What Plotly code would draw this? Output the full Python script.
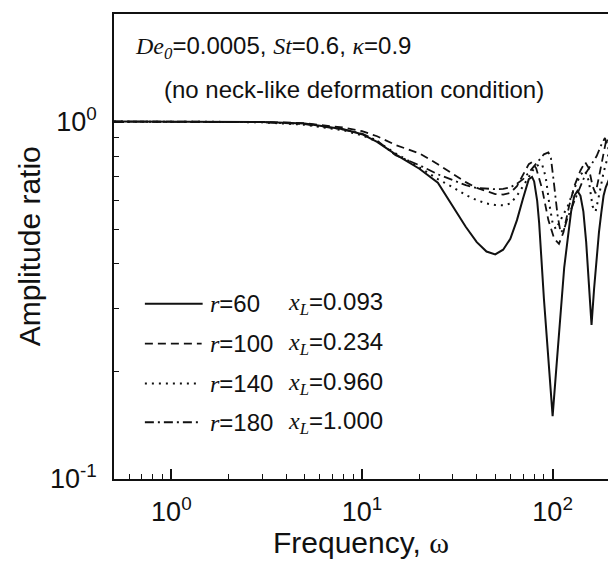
import math
import plotly.graph_objects as go

# ---------------- data ----------------
r_values = [60, 100, 140, 180]
xL_labels = ["0.093", "0.234", "0.960", "1.000"]

omega_r60 = [0.5, 1, 2, 3, 5, 8, 10, 12, 15, 20, 25, 30, 35, 40, 45, 50, 55, 60, 65, 70,
             75, 78, 80, 83, 85, 90, 95, 100, 105, 110, 115, 120, 125, 130, 135, 140, 145,
             150, 155, 160, 165, 170, 175, 180, 185, 190, 200]
amp_r60 = [1.0, 1.0, 0.999, 0.997, 0.988, 0.952, 0.922, 0.877, 0.81, 0.738, 0.675, 0.58,
           0.508, 0.46, 0.433, 0.425, 0.438, 0.47, 0.53, 0.61, 0.69, 0.70, 0.68, 0.60, 0.52,
           0.32, 0.21, 0.15, 0.21, 0.29, 0.39, 0.47, 0.56, 0.62, 0.64, 0.62, 0.56, 0.46,
           0.355, 0.27, 0.34, 0.42, 0.49, 0.555, 0.62, 0.655, 0.70]

omega_r100 = [0.5, 1, 2, 3, 5, 8, 10, 12, 15, 20, 25, 30, 35, 40, 45, 50, 55, 60, 65, 70,
              75, 78, 82, 88, 95, 102, 108, 114, 122, 130, 140, 148, 155, 162, 168, 175,
              185, 192, 200]
amp_r100 = [1.0, 1.0, 0.999, 0.998, 0.99, 0.962, 0.94, 0.91, 0.86, 0.815, 0.76, 0.713,
            0.677, 0.652, 0.637, 0.627, 0.625, 0.632, 0.66, 0.71, 0.76, 0.77, 0.74, 0.65,
            0.53, 0.47, 0.455, 0.49, 0.58, 0.66, 0.73, 0.77, 0.74, 0.66, 0.63, 0.70, 0.82,
            0.90, 0.86]

omega_r140 = [0.5, 1, 2, 3, 5, 8, 10, 12, 15, 20, 25, 30, 35, 40, 45, 50, 55, 60, 65, 70,
              75, 80, 85, 88, 92, 96, 100, 104, 110, 120, 130, 140, 148, 155, 162, 168,
              175, 185, 195, 200]
amp_r140 = [1.0, 1.0, 0.998, 0.995, 0.98, 0.945, 0.915, 0.88, 0.815, 0.745, 0.69, 0.655,
            0.623, 0.603, 0.59, 0.584, 0.583, 0.59, 0.62, 0.66, 0.70, 0.74, 0.76, 0.76,
            0.70, 0.59, 0.52, 0.50, 0.53, 0.58, 0.65, 0.71, 0.73, 0.68, 0.58, 0.56, 0.62,
            0.72, 0.80, 0.83]

omega_r180 = [0.5, 1, 2, 3, 5, 8, 10, 12, 15, 20, 25, 30, 35, 40, 45, 50, 55, 60, 65, 70,
              75, 80, 85, 90, 95, 98, 102, 106, 110, 115, 120, 130, 140, 150, 160, 170,
              180, 188, 194, 200]
amp_r180 = [1.0, 1.0, 0.998, 0.996, 0.984, 0.95, 0.925, 0.885, 0.805, 0.755, 0.712, 0.686,
            0.664, 0.652, 0.648, 0.647, 0.648, 0.655, 0.67, 0.69, 0.72, 0.75, 0.78, 0.81,
            0.82, 0.79, 0.66, 0.55, 0.49, 0.50, 0.54, 0.60, 0.66, 0.72, 0.76, 0.80, 0.86,
            0.90, 0.86, 0.80]

x_tick_vals = [1, 10, 100]
x_tick_text = ["10<sup>0</sup>", "10<sup>1</sup>", "10<sup>2</sup>"]
y_tick_vals = [0.1, 1]
y_tick_text = ["10<sup>-1</sup>", "10<sup>0</sup>"]

# ---------------- styling ----------------
OFF = 8                       # default page margin of the html body
W, H = 616 - OFF, 568 - OFF   # figure size so that it fits the window
L, R, T, B = 114, 612, 12, 479  # plot box in window pixels
SANS = "Arial, 'Liberation Sans', sans-serif"
dashes = ["solid", "8px,5px", "2px,5px", "9px,4px,2px,4px"]
widths = [2.0, 1.8, 2.0, 1.8]
INK = "#111111"

def px(xp):
    return (xp - L) / (R - L)

def py(yp):
    return (B - yp) / (B - T)

series = [(omega_r60, amp_r60), (omega_r100, amp_r100),
          (omega_r140, amp_r140), (omega_r180, amp_r180)]

fig = go.Figure()
for (w, a), r, d, lw in zip(series, r_values, dashes, widths):
    fig.add_trace(go.Scatter(x=w, y=a, mode="lines", name=f"r={r}",
                             line=dict(color=INK, width=lw, dash=d),
                             showlegend=False))

axis_common = dict(showline=True, linecolor=INK, linewidth=1.7, mirror=True,
                   showgrid=False, zeroline=False, ticks="inside", ticklen=10,
                   tickwidth=1.5, tickcolor=INK,
                   tickfont=dict(family=SANS, size=27, color=INK))
minor_common = dict(dtick="D1", ticks="inside", ticklen=5, tickwidth=1.3,
                    tickcolor=INK, showgrid=False)

fig.update_xaxes(type="log", range=[math.log10(0.5), math.log10(200)],
                 tickmode="array", tickvals=x_tick_vals, ticktext=x_tick_text,
                 ticklabelstandoff=8, minor=minor_common, **axis_common)
fig.update_yaxes(type="log", range=[-1, math.log10(2)],
                 tickmode="array", tickvals=y_tick_vals, ticktext=y_tick_text,
                 ticklabelstandoff=10, minor=minor_common, **axis_common)

def it(s):
    return ("<span style=\"font-family:Times New Roman, Liberation Serif, serif\"><i>"
            + s + "</i></span>")

ann = []
ann.append(dict(text="Frequency, <span style=\"font-family:Times New Roman, Liberation Serif, serif\">ω</span>",
                x=px(362), y=py(543), xref="paper", yref="paper",
                showarrow=False, xanchor="center", yanchor="middle",
                font=dict(family=SANS, size=30, color=INK)))
ann.append(dict(text="Amplitude ratio", textangle=-90,
                x=px(29), y=py(245), xref="paper", yref="paper",
                showarrow=False, xanchor="center", yanchor="middle",
                font=dict(family=SANS, size=30, color=INK)))

line1 = it("De") + "<sub>" + it("0") + "</sub>=0.0005, " + it("St") + "=0.6, " + it("κ") + "=0.9"
ann.append(dict(text=line1, x=px(133), y=py(46), xref="paper", yref="paper",
                showarrow=False, xanchor="left", yanchor="middle",
                font=dict(family=SANS, size=24, color=INK)))
ann.append(dict(text="(no neck-like deformation condition)", x=px(162), y=py(88),
                xref="paper", yref="paper", showarrow=False, xanchor="left",
                yanchor="middle", font=dict(family=SANS, size=24, color=INK)))

shapes = []
row_y = [303, 343, 383, 422]
line_end = [203, 202, 200, 199]
for i, r in enumerate(r_values):
    yy = py(row_y[i])
    shapes.append(dict(type="line", xref="paper", yref="paper", x0=px(145), x1=px(line_end[i]),
                       y0=yy, y1=yy, line=dict(color=INK, width=widths[i], dash=dashes[i])))
    ann.append(dict(text=it("r") + f"={r}", x=px(208), y=yy, xref="paper", yref="paper",
                    showarrow=False, xanchor="left", yanchor="middle",
                    font=dict(family=SANS, size=24, color=INK)))
    ann.append(dict(text=it("x") + "<sub>" + it("L") + "</sub>=" + xL_labels[i],
                    x=px(287), y=yy, xref="paper", yref="paper",
                    showarrow=False, xanchor="left", yanchor="middle",
                    font=dict(family=SANS, size=24, color=INK)))

fig.update_layout(width=W, height=H,
                  margin=dict(l=L - OFF, r=W - (R - OFF), t=T - OFF, b=H - (B - OFF)),
                  paper_bgcolor="white", plot_bgcolor="white",
                  annotations=ann, shapes=shapes, showlegend=False,
                  font=dict(family=SANS, color=INK))

fig.write_html("out.html")
